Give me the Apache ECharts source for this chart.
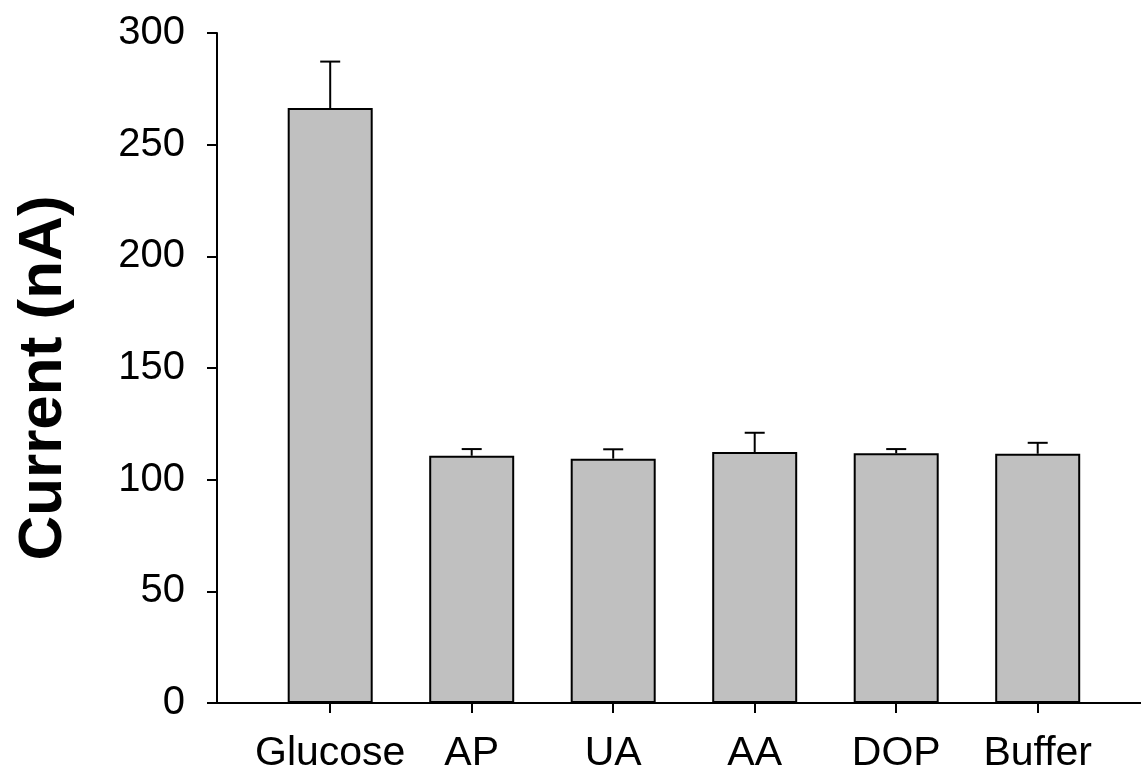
<!DOCTYPE html>
<html>
<head>
<meta charset="utf-8">
<script src="https://cdn.jsdelivr.net/npm/echarts@6/dist/echarts.min.js"></script>
<style>
  html, body { margin: 0; padding: 0; background: #fff; }
  #myChart { width: 1141px; height: 776px; }
</style>
</head>
<body>
<div id="myChart"></div>
<script>
// categories along x axis
var categories = ['Glucose', 'AP', 'UA', 'AA', 'DOP', 'Buffer'];
// mean current (nA)
var currents = [266.4, 110.7, 109.4, 112.4, 111.8, 111.6];
// upper error (nA)
var errors = [20.8, 3.0, 4.2, 8.6, 1.9, 4.9];
// y tick labels
var yTicks = [0, 50, 100, 150, 200, 250, 300];

var positions = categories.map(function (c, i) { return i; });
var barData = currents.map(function (v, i) { return [positions[i], v]; });
var errData = currents.map(function (v, i) { return [positions[i], v, v + errors[i]]; });

var font = '"Liberation Sans", Arial, sans-serif';

var option = {
  backgroundColor: '#fff',
  animation: false,
  grid: { left: 217, right: 0, top: 33, bottom: 73 },
  xAxis: {
    type: 'value',
    min: -0.8,
    max: 5.73,
    splitLine: { show: false },
    axisLine: { show: true, onZero: false, lineStyle: { color: '#000', width: 2 } },
    axisTick: { show: true, length: 10, customValues: positions, lineStyle: { color: '#000', width: 2 } },
    axisLabel: {
      customValues: positions,
      formatter: function (v) { return categories[Math.round(v)]; },
      color: '#000', fontSize: 41, fontFamily: font, margin: 30
    }
  },
  yAxis: {
    type: 'value',
    min: yTicks[0],
    max: yTicks[yTicks.length - 1],
    interval: 50,
    name: 'Current (nA)',
    nameLocation: 'middle',
    nameGap: 142,
    nameTextStyle: { color: '#000', fontSize: 62, fontWeight: 'bold', fontFamily: font, padding: [0, 20, 0, 0] },
    splitLine: { show: false },
    axisLine: { show: true, onZero: false, lineStyle: { color: '#000', width: 2 } },
    axisTick: { show: true, length: 10, lineStyle: { color: '#000', width: 2 } },
    axisLabel: { color: '#000', fontSize: 40, fontFamily: font, margin: 32 }
  },
  series: [
    {
      type: 'bar',
      data: barData,
      barWidth: 85,
      itemStyle: { color: '#c0c0c0', borderColor: '#000', borderWidth: 2 }
    },
    {
      type: 'custom',
      data: errData,
      z: 3,
      renderItem: function (params, api) {
        var base = api.coord([api.value(0), api.value(1)]);
        var top = api.coord([api.value(0), api.value(2)]);
        var half = 10;
        var style = { stroke: '#000', lineWidth: 2 };
        return {
          type: 'group',
          children: [
            { type: 'line', shape: { x1: base[0], y1: base[1], x2: top[0], y2: top[1] }, style: style },
            { type: 'line', shape: { x1: top[0] - half, y1: top[1], x2: top[0] + half, y2: top[1] }, style: style }
          ]
        };
      }
    }
  ]
};

var myChart = echarts.init(document.getElementById('myChart'));
myChart.setOption(option);
</script>
</body>
</html>
